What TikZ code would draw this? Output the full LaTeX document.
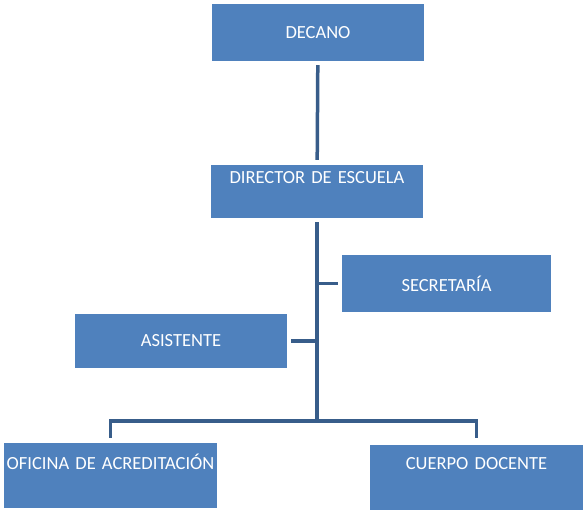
\documentclass[tikz,border=0pt]{standalone}
\usepackage{fontspec}
\setmainfont{Carlito}
\usetikzlibrary{positioning}
\definecolor{cajaazul}{HTML}{4F81BD}
\definecolor{lineaazul}{HTML}{385D8A}
\newcommand{\letracargo}{\fontsize{18.5}{22}\selectfont\spaceskip=0.16em\relax}
\tikzset{
    cargo/.style={draw=none, fill=cajaazul, text=white, inner sep=0pt, font=\letracargo},
    enlace/.style={draw=lineaazul, line width=3.5pt}
}
\begin{document}
\begin{tikzpicture}[x=1pt, y=-1pt]

        % Marco
        \useasboundingbox (0,0) rectangle (587,514);

        % Cargos
        \node[cargo, minimum width=212pt, minimum height=57pt] (decano) at (318,32.5) {DECANO};
        \node[cargo, text width=212pt, align=center, text height=18pt, text depth=35pt] (director) at (317,191.5) {DIRECTOR DE ESCUELA};
        \node[cargo, minimum width=209pt, minimum height=57pt] (secretaria) at (446.5,283.5) {SECRETARÍA};
        \node[cargo, minimum width=212pt, minimum height=54pt] (asistente) at (181,341) {ASISTENTE};
        \node[cargo, text width=213pt, align=center, text height=26pt, text depth=39pt] (oficina) at (110.5,475.5) {OFICINA DE ACREDITACIÓN};
        \node[cargo, text width=213pt, align=center, text height=24pt, text depth=41pt] (cuerpo) at (476.5,477.5) {CUERPO DOCENTE};

        % Punto de reparto
        \coordinate (rama) at (317,421);

        % Conexiones
        \draw[enlace, shorten <=4pt, shorten >=5pt] (decano) -- (director);
        \draw[enlace, shorten <=4pt] (director) -- (rama);
        \draw[enlace, shorten <=4pt] (secretaria.west) -- (secretaria.west -| rama);
        \draw[enlace, shorten <=4pt] (asistente.east) -- (asistente.east -| rama);
        \draw[enlace, shorten >=5pt] (rama) -| (oficina);
        \draw[enlace, shorten >=7pt] (rama) -| (cuerpo);

    \end{tikzpicture}
\end{document}
